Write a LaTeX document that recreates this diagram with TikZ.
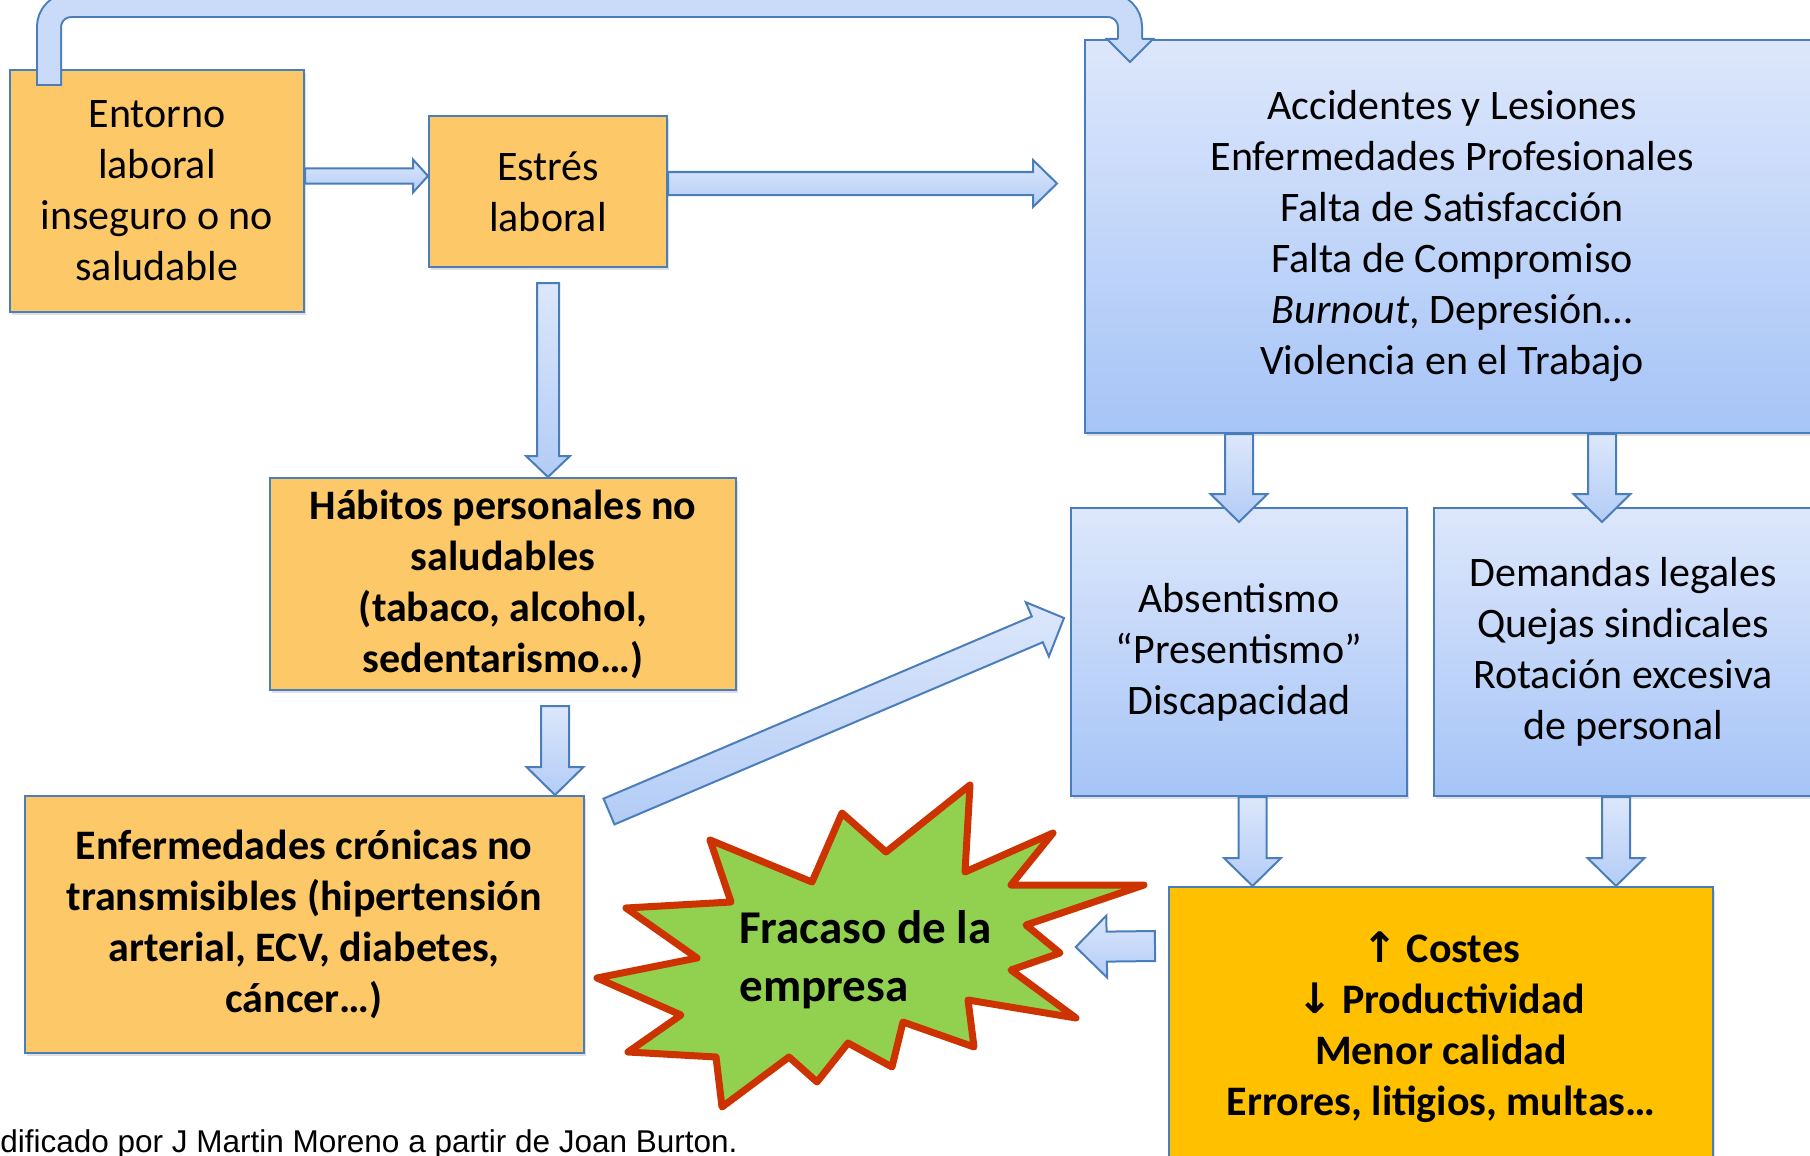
\documentclass[tikz,border=0pt]{standalone}
\usepackage{fontspec}
\setmainfont{Carlito}
\newfontfamily\notefont{Liberation Sans}
\newfontfamily\arrowfont{DejaVu Sans}
\usetikzlibrary{calc,shadows}

\definecolor{boxorange}{HTML}{FDC968}
\definecolor{boxgold}{HTML}{FFC000}
\definecolor{edgeblue}{HTML}{4A7EBB}
\definecolor{bluetop}{HTML}{DDE7FB}
\definecolor{bluebot}{HTML}{A6C4F7}
\definecolor{arrowtop}{HTML}{DCE7FB}
\definecolor{arrowbot}{HTML}{B3CCF6}
\definecolor{bandfill}{HTML}{C9DBF8}
\definecolor{stargreen}{HTML}{92D050}
\definecolor{starred}{HTML}{CC3300}

\tikzset{
  box/.style={rectangle,draw=edgeblue,line width=1pt,inner sep=0pt,align=center,
    font=\fontsize{21}{25.5}\selectfont,execute at begin node={\rule{0pt}{20pt}},
    drop shadow={shadow xshift=1.2pt,shadow yshift=-1.5pt,opacity=.25}},
  warmbox/.style={box,fill=boxorange},
  bluebox/.style={box,top color=bluetop,bottom color=bluebot},
  boldtext/.style={font=\fontsize{21}{25.5}\selectfont\bfseries},
  blockarrow/.style={draw=edgeblue,line width=1pt,top color=arrowtop,bottom color=arrowbot}
}

% from, to, half shaft, half head, head length
\newcommand\blockarrow[6][]{%
  \coordinate (ba-h) at ($(#3)!#6!(#2)$);
  \draw[blockarrow,#1] ($(#2)!#4!90:(#3)$) -- ($(ba-h)!#4!-90:(#2)$) -- ($(ba-h)!#5!-90:(#2)$)
    -- (#3) -- ($(ba-h)!#5!90:(#2)$) -- ($(ba-h)!#4!90:(#2)$) -- ($(#2)!#4!-90:(#3)$) -- cycle;
}

\begin{document}
\begin{tikzpicture}[x=0.5pt,y=-0.5pt]
\clip (0,0) rectangle (1810,1156);

\node[warmbox,minimum width=147pt,minimum height=121pt] (A) at (157,191) {Entorno\\laboral\\inseguro o no\\saludable};
\node[warmbox,minimum width=119pt,minimum height=75.5pt] (B) at (548,191.5) {Estrés\\laboral};
\node[bluebox,minimum width=367pt,minimum height=196.5pt] (C) at (1452,236.5) {Accidentes y Lesiones\\Enfermedades Profesionales\\Falta de Satisfacción\\Falta de Compromiso\\\textit{Burnout}, Depresión…\\Violencia en el Trabajo};
\node[warmbox,boldtext,minimum width=233pt,minimum height=106pt] (D) at (503,584) {Hábitos personales no\\saludables\\(tabaco, alcohol,\\sedentarismo…)};
\node[warmbox,boldtext,minimum width=279.5pt,minimum height=128.5pt] (E) at (304,924.5) {Enfermedades crónicas no\\transmisibles (hipertensión\\arterial, ECV, diabetes,\\cáncer…)};
\node[bluebox,minimum width=168pt,minimum height=144pt] (F) at (1239,652) {Absentismo\\“Presentismo”\\Discapacidad};
\node[bluebox,minimum width=189pt,minimum height=144pt] (G) at (1623,652) {Demandas legales\\Quejas sindicales\\Rotación excesiva\\de personal};
\node[box,fill=boxgold,boldtext,minimum width=272pt,minimum height=140pt] (H) at (1441,1027) {{\arrowfont ↑} Costes\\{\arrowfont ↓} Productividad\\Menor calidad\\Errores, litigios, multas…};

\draw[starred,fill=stargreen,line width=3.5pt,line join=round]
  (970,785) -- (965,872) -- (1053,833) -- (1011,885) -- (1144,885) -- (1026,925) -- (1060,953)
  -- (1011,970) -- (1076,1018) -- (968,1000) -- (974,1047) -- (903,1022) -- (892,1067) -- (848,1043)
  -- (817,1082) -- (789,1057) -- (722,1107) -- (716,1057) -- (628,1052) -- (681,1015) -- (597,978)
  -- (697,958) -- (626,908) -- (731,902) -- (710,840) -- (812,882) -- (842,813) -- (886,852) -- cycle;
\node[font=\fontsize{23.5}{29}\selectfont\bfseries,align=left,anchor=west,inner sep=0pt] (I) at (739,960) {Fracaso de la\\empresa};

\node[font=\notefont\fontsize{15.75}{18}\selectfont,anchor=base west,inner sep=0pt] (J) at (0,1152) {dificado por J Martin Moreno a partir de Joan Burton.};

\coordinate (t1) at ($(A.north west)+(40,15)$);
\coordinate (t2) at ($(C.north west)+(46,-34)$);
\coordinate (t3) at ($(C.north west)+(46,23)$);
\draw[edgeblue,line width=13pt,rounded corners=11pt] ($(t1)+(0,2)$) |- (t2) -- ($(t2)+(0,35)$);
\draw[bandfill,line width=11pt,rounded corners=11pt] (t1) |- (t2) -- ($(t2)+(0,36)$);
\fill[bandfill] ($(t3)+(-23,-23)$) -- ($(t3)+(23,-23)$) -- (t3) -- cycle;
\draw[edgeblue,line width=1pt] ($(t3)+(-12,-23)$) -- ($(t3)+(-23,-23)$) -- (t3) -- ($(t3)+(23,-23)$) -- ($(t3)+(12,-23)$);

\coordinate (a1) at ($(A.east)+(0,-15)$);
\coordinate (a2) at ($(B.west)+(0,-15.5)$);
\blockarrow{a1}{a2}{3.75pt}{8.25pt}{7.5pt}
\coordinate (b1) at ($(B.east)+(0,-8)$);
\coordinate (b2) at ($(C.west)+(-27,0)$);
\blockarrow{b1}{b2 |- b1}{5.75pt}{11.75pt}{12pt}
\coordinate (c1) at ($(B.south)+(0,15)$);
\blockarrow{c1}{c1 |- D.north}{5.5pt}{11pt}{10.5pt}
\coordinate (d1) at ($(D.south)+(52,15)$);
\blockarrow{d1}{d1 |- E.north}{7pt}{14.25pt}{14pt}
\coordinate (e1) at ($(E.north east)+(24.5,16.5)$);
\coordinate (e2) at ($(F.west)+(-6,-34)$);
\blockarrow{e1}{e2}{7pt}{14.75pt}{14.5pt}
\coordinate (f1) at ($(F.north)+(0,15)$);
\blockarrow{f1 |- C.south}{f1}{7pt}{14.25pt}{14pt}
\coordinate (g1) at ($(G.north)+(-21,15)$);
\blockarrow{g1 |- C.south}{g1}{7pt}{14.25pt}{14pt}
\coordinate (h1) at ($(F.south)+(13.5,0)$);
\blockarrow{h1}{h1 |- H.north}{7pt}{14.25pt}{14pt}
\coordinate (k1) at ($(G.south)+(-7,0)$);
\blockarrow{k1}{k1 |- H.north}{7pt}{14.25pt}{14pt}
\coordinate (m1) at ($(H.north west)+(-13,60)$);
\coordinate (m2) at ($(I.east)+(84,-13)$);
\blockarrow{m1}{m2}{7.5pt}{15.5pt}{15.5pt}
\end{tikzpicture}
\end{document}
